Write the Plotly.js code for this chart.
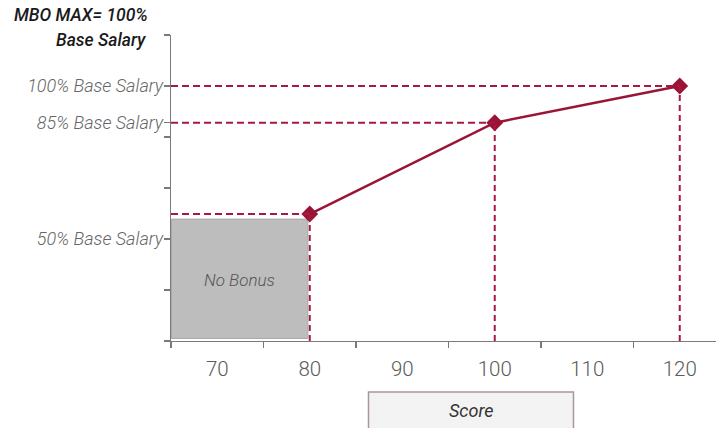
<!DOCTYPE html>
<html>
<head>
<meta charset="utf-8">
<script src="https://cdn.plot.ly/plotly-3.0.1.min.js"></script>
<style>html,body{margin:0;padding:0;background:#fff;}#chart{width:716px;height:428px;}</style>
</head>
<body>
<div id="chart"></div>
<script>
// ---- data (schematic payout axis units: one tick step = one unit) ----
const scores = [80, 100, 120];
const payoutLevels = [2.49, 4.28, 5.0];
const xTickLabels = [70, 80, 90, 100, 110, 120];
const xMinorTicks = [65, 75, 85, 95, 105, 115];
const yTickVals = [2, 4.28, 5];
const yTickText = ['50% Base Salary', '85% Base Salary', '100% Base Salary'];
const yMinorTicks = [0, 1, 3, 4, 6];
const noBonusScores = [65.05, 79.8];
const noBonusLevels = [0.05, 2.39];
const noBonusLabel = 'No Bonus';
const xAxisLabel = 'Score';
const capLabel = ['MBO MAX= 100%', 'Base Salary'];

const red = '#991435';
const dashRed = '#a8183f';

const shapes = [];
// No bonus region
shapes.push({type: 'rect', xref: 'x', yref: 'y', layer: 'below',
  x0: noBonusScores[0], x1: noBonusScores[1], y0: noBonusLevels[0], y1: noBonusLevels[1],
  fillcolor: '#bdbdbd', line: {color: '#a8a8a8', width: 1}});
// guide lines
scores.forEach((s, i) => {
  shapes.push({type: 'line', xref: 'x', yref: 'y', x0: 65, x1: s, y0: payoutLevels[i], y1: payoutLevels[i],
    line: {color: dashRed, width: 2, dash: '7px,4px'}});
  shapes.push({type: 'line', xref: 'x', yref: 'y', x0: s, x1: s, y0: 0, y1: payoutLevels[i],
    line: {color: dashRed, width: 2, dash: '6px,4px'}});
});
// Score label box
shapes.push({type: 'rect', xref: 'paper', yref: 'paper', x0: 0.3624, x1: 0.7385, y0: -0.1667, y1: -0.33,
  fillcolor: '#f3f3f3', line: {color: '#a8979d', width: 1.5}});

const trace = {
  type: 'scatter', mode: 'lines+markers',
  x: scores, y: payoutLevels,
  line: {color: red, width: 2.5},
  marker: {symbol: 'diamond', size: 13, color: red},
  cliponaxis: false, hoverinfo: 'skip'
};

const layout = {
  width: 716, height: 428,
  margin: {l: 171, r: 0, t: 35, b: 87},
  paper_bgcolor: '#ffffff', plot_bgcolor: '#ffffff',
  showlegend: false,
  font: {family: 'Roboto, "Open Sans", sans-serif'},
  xaxis: {
    range: [65, 123.92], showgrid: false, zeroline: false,
    showline: true, linecolor: '#7a7a7a', linewidth: 1.3,
    tickmode: 'array', tickvals: xTickLabels, ticktext: xTickLabels.map(String),
    ticks: '', ticklabelstandoff: 9,
    tickfont: {size: 20.5, color: '#5a5a5a', weight: 300},
    minor: {tickmode: 'array', tickvals: xMinorTicks, ticks: 'outside', ticklen: 6, tickwidth: 1.3, tickcolor: '#7a7a7a'}
  },
  yaxis: {
    range: [0, 6], showgrid: false, zeroline: false,
    showline: true, linecolor: '#7a7a7a', linewidth: 1.3,
    tickmode: 'array', tickvals: yTickVals, ticktext: yTickText,
    ticks: 'outside', ticklen: 6, tickwidth: 1.3, tickcolor: '#7a7a7a',
    ticklabelstandoff: -3,
    tickfont: {size: 18, color: '#666666', style: 'italic', weight: 300},
    minor: {tickmode: 'array', tickvals: yMinorTicks, ticks: 'outside', ticklen: 6, tickwidth: 1.3, tickcolor: '#7a7a7a'}
  },
  shapes: shapes,
  annotations: [
    {xref: 'x', yref: 'y', x: (noBonusScores[0] + noBonusScores[1]) / 2, y: 1.2,
     xanchor: 'center', yanchor: 'middle',
     text: noBonusLabel, showarrow: false,
     font: {size: 17, color: '#555555', style: 'italic', weight: 300}},
    {xref: 'paper', yref: 'paper', x: 0.5505, y: -0.2271, xanchor: 'center', yanchor: 'middle',
     text: xAxisLabel, showarrow: false,
     font: {size: 18, color: '#333333', style: 'italic'}},
    {xref: 'paper', yref: 'paper', x: -0.0385, y: (341 - 15) / 306, xanchor: 'right', yanchor: 'middle',
     text: capLabel[0], showarrow: false,
     font: {size: 17.5, color: '#1a1a1a', style: 'italic', weight: 500}},
    {xref: 'paper', yref: 'paper', x: -0.042, y: (341 - 40) / 306, xanchor: 'right', yanchor: 'middle',
     text: capLabel[1], showarrow: false,
     font: {size: 17.5, color: '#1a1a1a', style: 'italic', weight: 500}}
  ]
};

Plotly.newPlot('chart', [trace], layout, {displayModeBar: false, staticPlot: true});
</script>
</body>
</html>
